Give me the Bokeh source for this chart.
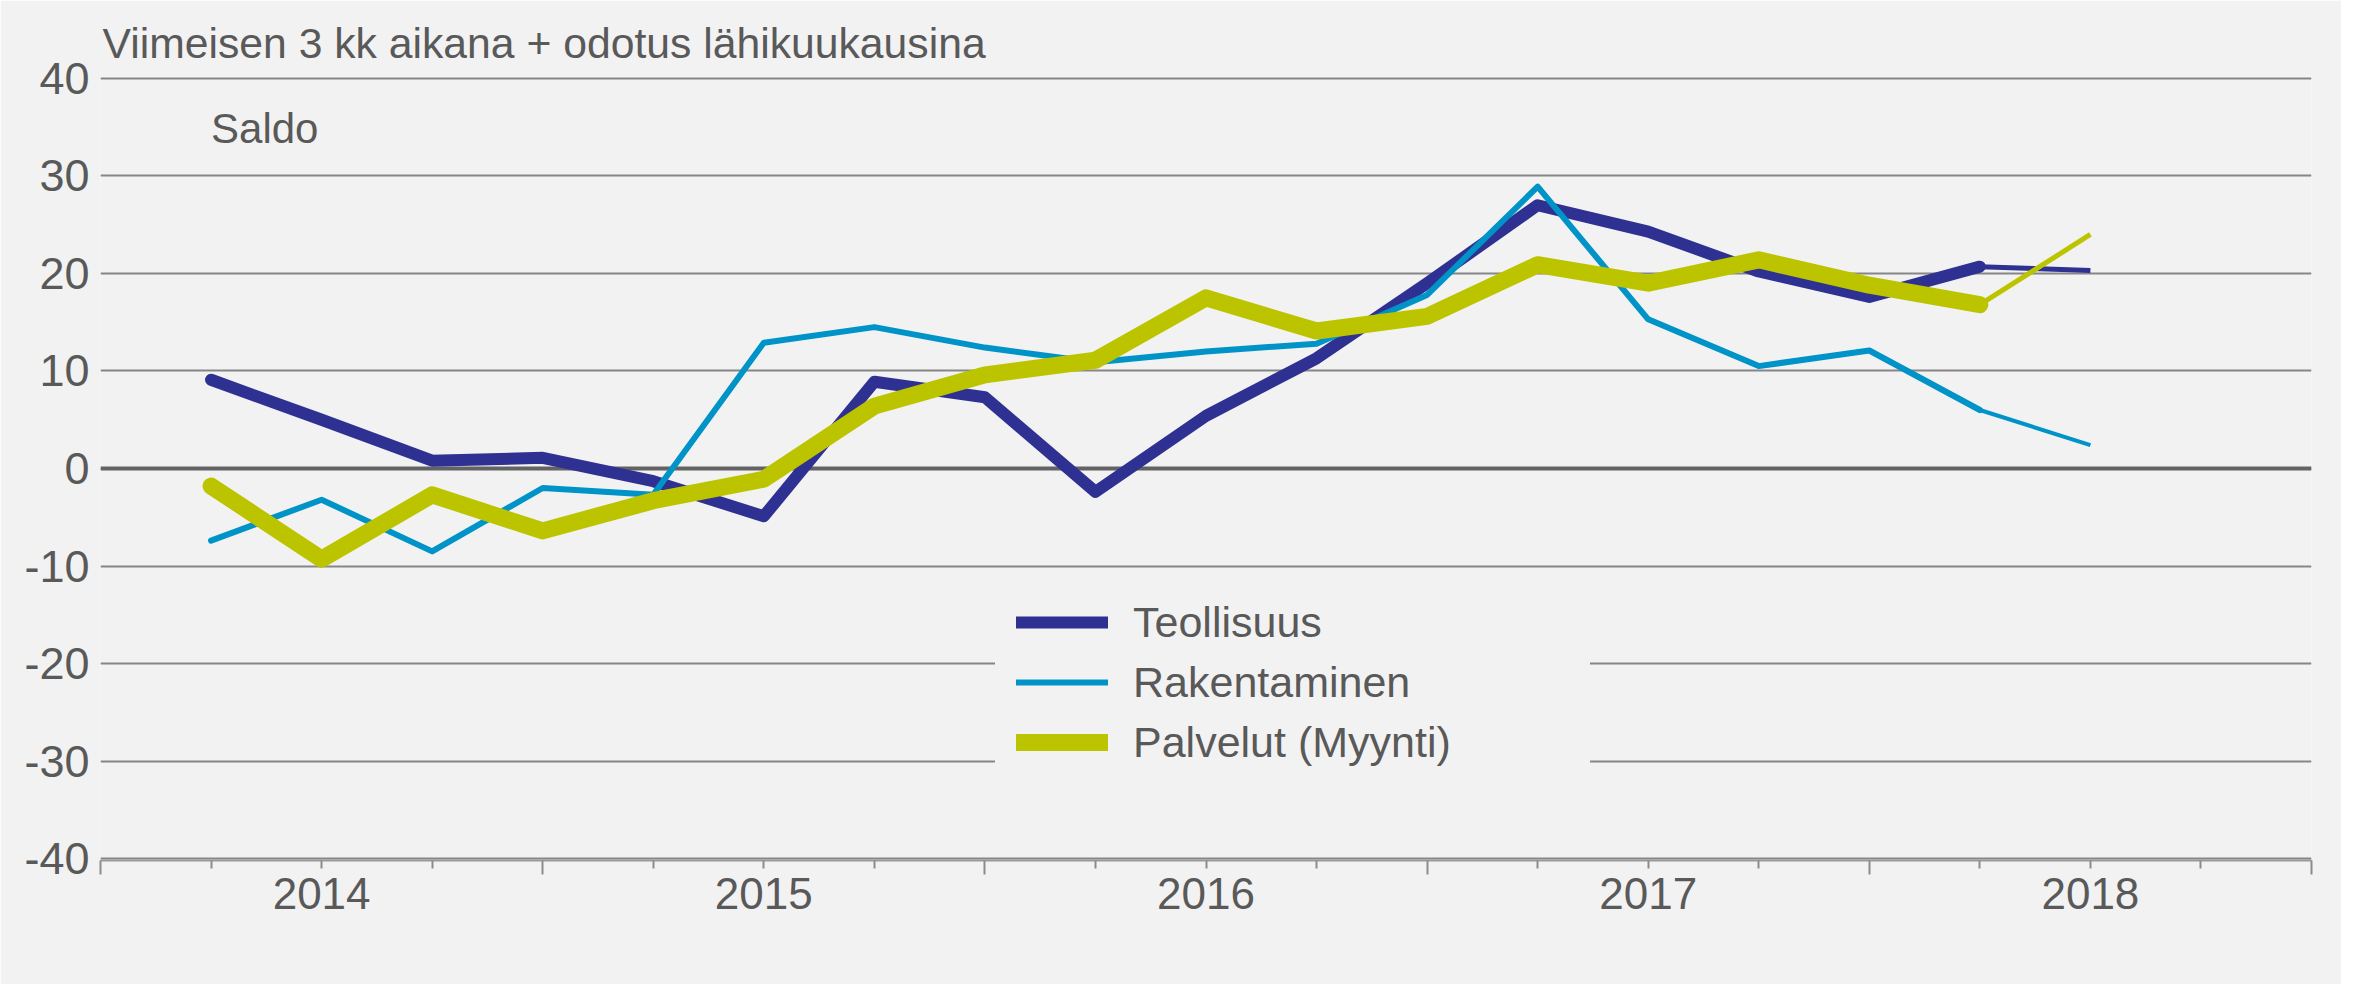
from bokeh.plotting import figure
from bokeh.models import (FixedTicker, LinearAxis, Range1d, Span, Label, Legend,
                          LegendItem, Grid, Title)
from bokeh.embed import file_html
from bokeh.resources import INLINE

# ---- data -------------------------------------------------------------
title_text = "Viimeisen 3 kk aikana + odotus lähikuukausina"
unit_text = "Saldo"
series_names = ["Teollisuus", "Rakentaminen", "Palvelut (Myynti)"]
years = ["2014", "2015", "2016", "2017", "2018"]
y_ticks = [-40, -30, -20, -10, 0, 10, 20, 30, 40]

# quarterly balance figures, last value = expectation (odotus)
teollisuus = [9.1, 5.0, 0.8, 1.1, -1.3, -4.9, 8.9, 7.3, -2.4, 5.4, 11.3, 19.0,
              27.0, 24.3, 20.2, 17.6, 20.7, 20.3]
rakentaminen = [-7.4, -3.2, -8.5, -2.0, -2.7, 12.9, 14.5, 12.4, 10.9, 12.0, 12.8,
                17.8, 28.9, 15.3, 10.5, 12.1, 6.0, 2.4]
palvelut = [-1.8, -9.3, -2.7, -6.4, -3.3, -1.1, 6.4, 9.6, 11.1, 17.5, 14.1, 15.6,
            20.9, 19.0, 21.4, 18.8, 16.8, 24.0]

n_quarters = 20          # axis spans 5 years of quarters
quarter_pos = list(range(1, len(teollisuus) + 1))

# ---- figure -----------------------------------------------------------
BG = "#f2f2f2"
TXT = "#595959"
FONT = "Liberation Sans"

p = figure(width=2341, height=984, output_backend="svg", toolbar_location=None,
           x_range=Range1d(0, n_quarters), y_range=Range1d(-40.2, 40.2),
           x_axis_location=None, y_axis_location=None,
           min_border_left=100, min_border_right=30, min_border_top=76,
           min_border_bottom=124)
p.background_fill_color = BG
p.border_fill_color = BG
p.outline_line_color = None
for g in list(p.grid):
    g.visible = False

p.add_layout(Title(text=title_text, align="left", offset=2, standoff=20,
                   text_font=FONT, text_font_size="42.7px", text_color=TXT,
                   text_font_style="normal"), "above")

grid = Grid(dimension=1, ticker=FixedTicker(ticks=y_ticks),
            grid_line_color="#868686", grid_line_width=2)
p.add_layout(grid, "center")
zero = Span(location=0, dimension="width", line_color="#636363", line_width=4,
            level="underlay")
p.add_layout(zero, "center")

# y axis
yax = LinearAxis(ticker=FixedTicker(ticks=y_ticks), axis_line_color=None,
                 major_tick_line_color=None, minor_tick_line_color=None,
                 major_label_overrides={t: str(t) for t in y_ticks},
                 major_label_standoff=5, major_label_text_font=FONT,
                 major_label_text_font_size="45px", major_label_text_color=TXT)
p.add_layout(yax, "left")

# x axis: quarter ticks, longer at year boundaries
year_bounds = list(range(0, n_quarters + 1, 4))
quarter_ticks = [q for q in range(n_quarters + 1) if q not in year_bounds]
xax1 = LinearAxis(ticker=FixedTicker(ticks=year_bounds, minor_ticks=quarter_ticks),
                  axis_line_color="#9a9a9a", axis_line_width=2,
                  major_tick_out=14, major_tick_in=0, minor_tick_out=8, minor_tick_in=0,
                  major_tick_line_color="#8c8c8c", minor_tick_line_color="#8c8c8c",
                  major_tick_line_width=2, minor_tick_line_width=2,
                  major_label_text_font_size="0px", major_label_text_color=None,
                  major_label_standoff=0)
p.add_layout(xax1, "below")

year_pos = [2 + 4 * i for i in range(len(years))]
xax2 = LinearAxis(ticker=FixedTicker(ticks=year_pos, minor_ticks=[]),
                  major_label_overrides={pos: yr for pos, yr in zip(year_pos, years)},
                  axis_line_color=None, major_tick_line_color=None,
                  minor_tick_line_color=None, major_tick_out=0, minor_tick_out=0,
                  major_tick_in=0, minor_tick_in=0,
                  major_label_standoff=3, major_label_text_font=FONT,
                  major_label_text_font_size="44px", major_label_text_color=TXT)
p.add_layout(xax2, "below")

# ---- lines ------------------------------------------------------------
styles = [("#2E3192", 12, 5), ("#0093C8", 6, 4), ("#BCC400", 17, 5)]
items = []
for name, vals, (color, w, wthin) in zip(series_names,
                                         [teollisuus, rakentaminen, palvelut], styles):
    r = p.line(quarter_pos[:-1], vals[:-1], line_color=color, line_width=w,
               line_cap="round", line_join="round")
    p.line(quarter_pos[-2:], vals[-2:], line_color=color, line_width=wthin,
           line_cap="butt", line_join="round")
    items.append(LegendItem(label=name, renderers=[r]))

legend = Legend(items=items, location=(895, 72), orientation="vertical",
                background_fill_color=BG, background_fill_alpha=1.0,
                border_line_color=BG, border_line_width=1, label_text_font=FONT,
                label_text_font_size="43px", label_text_color=TXT,
                glyph_width=92, glyph_height=50, label_height=50,
                label_standoff=25, spacing=10, padding=20, label_width=436, margin=0)
p.add_layout(legend, "center")

# ---- texts ------------------------------------------------------------
p.add_layout(Label(x=1, y=40, x_offset=0, y_offset=-50, text=unit_text,
                   text_font=FONT, text_font_size="42px", text_color=TXT,
                   text_baseline="alphabetic"))

open("out.html", "w").write(file_html(p, INLINE))
